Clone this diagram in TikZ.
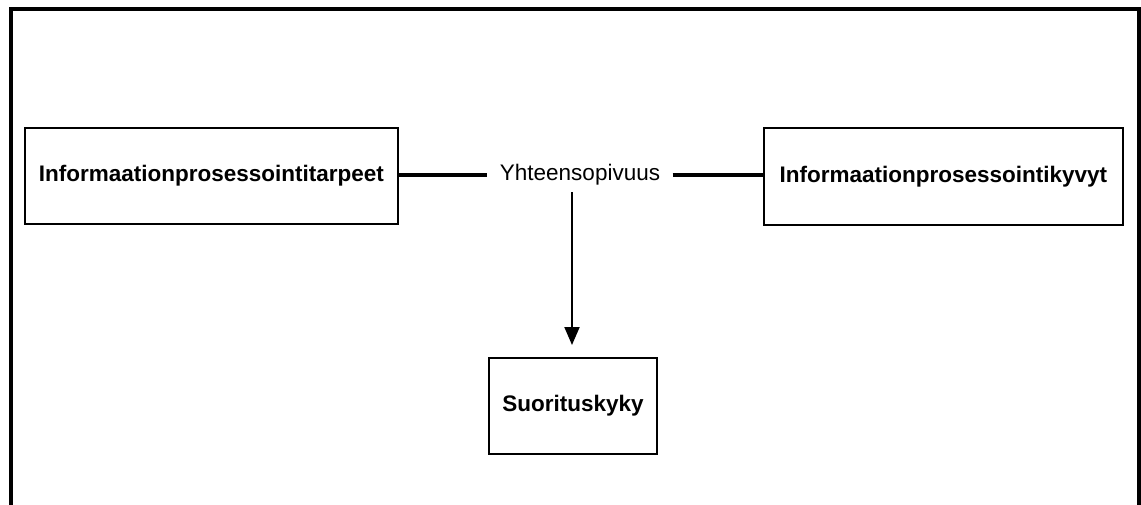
\documentclass[tikz,border=0pt]{standalone}
\usepackage{fontspec}
\setmainfont{Liberation Sans}
\usetikzlibrary{arrows.meta}
\begin{document}
\begin{tikzpicture}[x=1pt,y=-1pt,
  box/.style={draw, line width=1.8pt, inner sep=0pt, anchor=north west, font=\fontsize{22.5}{26}\selectfont\bfseries},
  link/.style={line width=3.4pt},
  arr/.style={line width=2pt, shorten >=12pt, -{Triangle[length=18pt,width=15pt]}}]
\useasboundingbox (0,0) rectangle (1141,504);
% outer frame, open at the bottom
\draw[line width=4pt] (10.5,520) -- (10.5,8.5) -- (1139,8.5) -- (1139,520);
% boxes
\node[box, minimum width=373pt, minimum height=96pt] (need) at (24,127) {Informaationprosessointitarpeet};
\node[box, minimum width=359pt, minimum height=97pt] (cap) at (763,127) {Informaationprosessointikyvyt};
\node[box, minimum width=168pt, minimum height=96pt] (perf) at (488,357) {Suorituskyky};
% fit label
\node[font=\fontsize{22.5}{26}\selectfont, inner sep=0pt, minimum width=185pt, minimum height=30pt] (fit) at (580,175) {Yhteensopivuus};
\draw[link] (need.east |- fit) -- (fit.west);
\draw[link] (fit.east) -- (cap.west |- fit);
\draw[arr] (572,192) coordinate (s) -- (s |- perf.north);
\end{tikzpicture}
\end{document}
